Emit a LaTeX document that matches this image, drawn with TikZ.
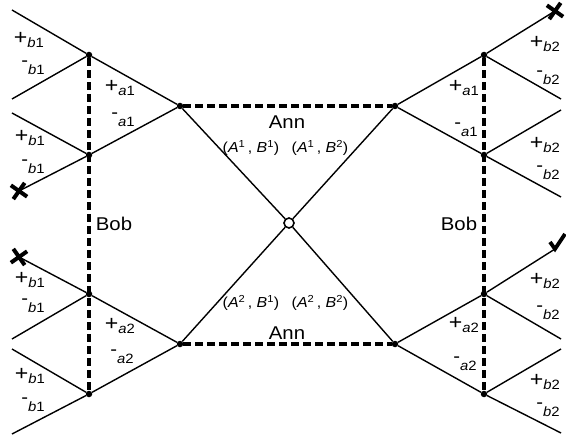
\documentclass[tikz,border=0pt]{standalone}
\usepackage{fontspec}
\setmainfont[FakeStretch=1.1]{Liberation Sans}
\newcommand\bigf{\fontsize{18.5}{20}\selectfont}
\newcommand\plf{\fontsize{21}{22}\selectfont}
\newcommand\subf{\fontsize{13.5}{14}\selectfont}
\newcommand\prf{\fontsize{14.5}{16}\selectfont}
\newcommand\lp[2]{{\plf+}\raisebox{-3.5pt}{\subf\textit{#1}#2}}
\newcommand\lm[2]{\raisebox{4.5pt}{\bigf-}\raisebox{-3.5pt}{\subf\textit{#1}#2}}
\newcommand\pair[2]{\prf(\textit{A}\textsuperscript{#1}\,, \textit{B}\textsuperscript{#2})}
\tikzset{
  edge/.style={line width=1.4pt},
  info/.style={line width=3.3pt, dash pattern=on 8pt off 4pt},
  dot/.style={circle, fill, inner sep=0pt, minimum size=6.5pt},
  lbl/.style={inner sep=0pt},
  crossmark/.pic={\draw[line width=4pt] (-7,-7)--(7,7) (-7,7)--(7,-7);},
  checkmark/.pic={\draw[line width=3.8pt, line join=miter] (-5,-7)--(0,0)--(10,-15);}
}
\begin{document}
\begin{tikzpicture}[x=1pt,y=-1pt]
\useasboundingbox (0,0) rectangle (566,436);
% decision nodes
\node[dot] (a1l) at (180,106) {};
\node[dot] (a1r) at (395,106) {};
\node[dot] (a2l) at (180,344) {};
\node[dot] (a2r) at (395,344) {};
\node[dot] (bl1) at (89,55) {};
\node[dot] (bl2) at (89,155) {};
\node[dot] (bl3) at (89,294) {};
\node[dot] (bl4) at (89,394) {};
\node[dot] (br1) at (484,55) {};
\node[dot] (br2) at (484,155) {};
\node[dot] (br3) at (484,294) {};
\node[dot] (br4) at (484,394) {};
% leaves
\coordinate (l1) at (12,10);
\coordinate (l2) at (12,99);
\coordinate (l3) at (12,113);
\coordinate (x1) at (19,191);
\coordinate (x2) at (19,257);
\coordinate (l6) at (12,339);
\coordinate (l7) at (12,349);
\coordinate (l8) at (12,434);
\coordinate (x3) at (555,11);
\coordinate (r2) at (561,99);
\coordinate (r3) at (561,110);
\coordinate (r4) at (561,197);
\coordinate (ck) at (555,249);
\coordinate (r6) at (561,339);
\coordinate (r7) at (561,349);
\coordinate (r8) at (561,433);
% information sets
\draw[info] (a1l) -- (a1r);
\draw[info] (a2l) -- (a2r);
\draw[info] (bl1) -- (bl4);
\draw[info] (br1) -- (br4);
% root
\node[circle, draw, line width=1.6pt, minimum size=10pt, inner sep=0pt, fill=white] (c) at (289,223) {};
% edges
\draw[edge] (c) -- (a1l);
\draw[edge] (c) -- (a1r);
\draw[edge] (c) -- (a2l);
\draw[edge] (c) -- (a2r);
\draw[edge] (a1l) -- (bl1);
\draw[edge] (a1l) -- (bl2);
\draw[edge] (a2l) -- (bl3);
\draw[edge] (a2l) -- (bl4);
\draw[edge] (a1r) -- (br1);
\draw[edge] (a1r) -- (br2);
\draw[edge] (a2r) -- (br3);
\draw[edge] (a2r) -- (br4);
\draw[edge] (bl1) -- (l1);
\draw[edge] (bl1) -- (l2);
\draw[edge] (bl2) -- (l3);
\draw[edge] (bl2) -- (x1);
\draw[edge] (bl3) -- (x2);
\draw[edge] (bl3) -- (l6);
\draw[edge] (bl4) -- (l7);
\draw[edge] (bl4) -- (l8);
\draw[edge] (br1) -- (x3);
\draw[edge] (br1) -- (r2);
\draw[edge] (br2) -- (r3);
\draw[edge] (br2) -- (r4);
\draw[edge] (br3) -- (ck);
\draw[edge] (br3) -- (r6);
\draw[edge] (br4) -- (r7);
\draw[edge] (br4) -- (r8);
% markers
\pic[rotate=10] at (x1) {crossmark};
\pic[rotate=-10] at (x2) {crossmark};
\pic[rotate=10] at (x3) {crossmark};
\pic at (ck) {checkmark};
% player labels
\node[lbl] (ann1) at (287,122) {\bigf Ann};
\node[lbl] (ann2) at (287,333) {\bigf Ann};
\node[lbl] (bob1) at (114,224) {\bigf Bob};
\node[lbl] (bob2) at (459,224) {\bigf Bob};
\node[lbl] (p11) at (251,148) {\pair{1}{1}};
\node[lbl] (p12) at (320,148) {\pair{1}{2}};
\node[lbl] (p21) at (251,303) {\pair{2}{1}};
\node[lbl] (p22) at (320,303) {\pair{2}{2}};
% action labels left
\node[lbl] (t1) at (29,40) {\lp{b}{1}};
\node[lbl] (t2) at (33,68) {\lm{b}{1}};
\node[lbl] (t3) at (120,88) {\lp{a}{1}};
\node[lbl] (t4) at (123,120) {\lm{a}{1}};
\node[lbl] (t5) at (30,138) {\lp{b}{1}};
\node[lbl] (t6) at (33,167) {\lm{b}{1}};
\node[lbl] (t7) at (30,280) {\lp{b}{1}};
\node[lbl] (t8) at (33,306) {\lm{b}{1}};
\node[lbl] (t9) at (120,326) {\lp{a}{2}};
\node[lbl] (t10) at (122,357) {\lm{a}{2}};
\node[lbl] (t11) at (30,376) {\lp{b}{1}};
\node[lbl] (t12) at (33,405) {\lm{b}{1}};
% action labels right
\node[lbl] (u1) at (545,44) {\lp{b}{2}};
\node[lbl] (u2) at (548,78) {\lm{b}{2}};
\node[lbl] (u3) at (464,88) {\lp{a}{1}};
\node[lbl] (u4) at (466,130) {\lm{a}{1}};
\node[lbl] (u5) at (545,145) {\lp{b}{2}};
\node[lbl] (u6) at (548,173) {\lm{b}{2}};
\node[lbl] (u7) at (545,281) {\lp{b}{2}};
\node[lbl] (u8) at (548,313) {\lm{b}{2}};
\node[lbl] (u9) at (464,325) {\lp{a}{2}};
\node[lbl] (u10) at (465,364) {\lm{a}{2}};
\node[lbl] (u11) at (545,382) {\lp{b}{2}};
\node[lbl] (u12) at (548,410) {\lm{b}{2}};
\end{tikzpicture}
\end{document}
